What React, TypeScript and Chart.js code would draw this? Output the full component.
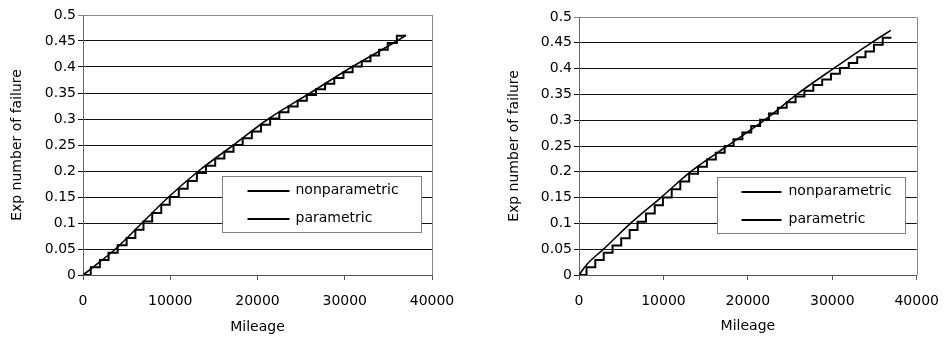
import React, { useEffect, useRef } from "react";
import { Chart, registerables } from "chart.js";

Chart.register(...registerables);

// ---------- data ----------
const seriesNames = ["nonparametric", "parametric"];
const xTickLabels = ["0", "10000", "20000", "30000", "40000"];
const yTickLabels = ["0", "0.05", "0.1", "0.15", "0.2", "0.25", "0.3", "0.35", "0.4", "0.45", "0.5"];
const xAxisTitle = "Mileage";
const yAxisTitle = "Exp number of failure";

// nonparametric step estimate (jump mileage, cumulative value) – same in both panels
const stepMileage = [0, 890, 1930, 2930, 3970, 5000, 6000, 6930, 7930, 8970, 9940, 10980, 12000, 13050, 14100, 15150, 16200, 17250, 18300, 19350, 20400, 21450, 22500, 23550, 24600, 25650, 26700, 27750, 28800, 29850, 30900, 31950, 32950, 33930, 34930, 35970, 37000];
const stepValue = [0, 0.015, 0.029, 0.043, 0.057, 0.071, 0.087, 0.103, 0.119, 0.135, 0.15, 0.166, 0.181, 0.196, 0.21, 0.224, 0.237, 0.25, 0.263, 0.276, 0.289, 0.301, 0.313, 0.324, 0.335, 0.346, 0.357, 0.368, 0.379, 0.39, 0.401, 0.411, 0.422, 0.433, 0.446, 0.46, 0.46];

// parametric fit, left panel
const leftCurveMileage = [0, 1000, 3720, 6760, 9810, 13250, 17250, 21230, 26040, 30800, 35970, 37000];
const leftCurveValue = [0, 0.013, 0.05, 0.1, 0.15, 0.2, 0.25, 0.3, 0.35, 0.4, 0.45, 0.461];

// parametric fit, right panel
const rightCurveMileage = [0, 900, 2900, 6100, 9700, 13200, 17550, 21960, 25800, 30130, 34620, 36920];
const rightCurveValue = [0, 0.02, 0.05, 0.1, 0.15, 0.2, 0.25, 0.3, 0.35, 0.4, 0.45, 0.474];

const FONT = "'DejaVu Sans', 'Liberation Sans', Arial, sans-serif";

type Panel = {
  curveX: number[];
  curveY: number[];
  yWidth: number;
  padRight: number;
  padTop: number;
  xHeight: number;
  yTitlePad: number;
  xTitlePad: number;
  legend: { left: number; rightInset: number; top: number; height: number; lineFrom: number; lineTo: number; textAt: number };
};

const panels: Panel[] = [
  {
    curveX: leftCurveMileage,
    curveY: leftCurveValue,
    yWidth: 83,
    padRight: 44,
    padTop: 15,
    xHeight: 65,
    yTitlePad: 9,
    xTitlePad: 4,
    legend: { left: 139, rightInset: 11, top: 160.5, height: 56, lineFrom: 25, lineTo: 67, textAt: 73 },
  },
  {
    curveX: rightCurveMileage,
    curveY: rightCurveValue,
    yWidth: 103,
    padRight: 25,
    padTop: 17,
    xHeight: 65,
    yTitlePad: 30,
    xTitlePad: 5,
    legend: { left: 138, rightInset: 12, top: 159.5, height: 56, lineFrom: 24, lineTo: 64, textAt: 71 },
  },
];

const frameAndLegend = {
  id: "frameAndLegend",
  beforeDatasetsDraw(chart: any) {
    const { ctx, chartArea: a } = chart;
    ctx.save();
    ctx.strokeStyle = "#8a8a8a";
    ctx.lineWidth = 1;
    const rx = Math.round(a.right) + 0.5;
    ctx.beginPath();
    ctx.moveTo(rx, a.top);
    ctx.lineTo(rx, a.bottom);
    ctx.stroke();
    ctx.restore();
  },
  afterDatasetsDraw(chart: any, _args: any, opts: any) {
    const { ctx, chartArea: a } = chart;
    const lg = opts.box;
    if (!lg) return;
    const left = Math.round(a.left + lg.left) + 0.5;
    const right = Math.round(a.right - lg.rightInset) + 0.5;
    const top = Math.round(a.top + lg.top) + 0.5;
    const bottom = Math.round(a.top + lg.top + lg.height) + 0.5;
    ctx.save();
    ctx.fillStyle = "#ffffff";
    ctx.fillRect(left, top, right - left, bottom - top);
    ctx.strokeStyle = "#808080";
    ctx.lineWidth = 1;
    ctx.strokeRect(left, top, right - left, bottom - top);
    const rowH = (bottom - top) / 2;
    chart.data.datasets.forEach((ds: any, i: number) => {
      const cy = top + rowH * (i + 0.5);
      ctx.strokeStyle = "#000";
      ctx.lineWidth = 2;
      ctx.beginPath();
      ctx.moveTo(left + lg.lineFrom, Math.round(cy));
      ctx.lineTo(left + lg.lineTo, Math.round(cy));
      ctx.stroke();
      ctx.fillStyle = "#000";
      ctx.font = `14px ${FONT}`;
      ctx.textBaseline = "middle";
      ctx.textAlign = "left";
      ctx.fillText(ds.label, left + lg.textAt, cy);
    });
    ctx.restore();
  },
};

function ChartPanel({ panel }: { panel: Panel }) {
  const ref = useRef<HTMLCanvasElement | null>(null);
  useEffect(() => {
    if (!ref.current) return;
    const stepData = stepMileage.map((x, i) => ({ x, y: stepValue[i] }));
    const curveData = panel.curveX.map((x, i) => ({ x, y: panel.curveY[i] }));
    const chart = new Chart(ref.current, {
      type: "line",
      data: {
        datasets: [
          {
            label: seriesNames[0],
            data: stepData,
            stepped: "before",
            borderColor: "#000",
            borderWidth: 2,
            pointRadius: 0,
            fill: false,
          },
          {
            label: seriesNames[1],
            data: curveData,
            borderColor: "#000",
            borderWidth: 1.6,
            pointRadius: 0,
            cubicInterpolationMode: "monotone",
            fill: false,
          },
        ],
      } as any,
      options: {
        animation: false,
        responsive: false,
        events: [],
        layout: { padding: { left: 0, right: panel.padRight, top: panel.padTop, bottom: 0 } },
        plugins: {
          legend: { display: false },
          tooltip: { enabled: false },
          frameAndLegend: { box: panel.legend },
        } as any,
        scales: {
          x: {
            type: "linear",
            min: 0,
            max: 40000,
            ticks: {
              stepSize: 10000,
              color: "#000",
              padding: 13,
              maxRotation: 0,
              font: { family: FONT, size: 14 },
              callback: (v: any) => xTickLabels[Math.round(Number(v) / 10000)] ?? "",
            },
            grid: { drawOnChartArea: false, drawTicks: true, tickLength: 5, color: "#555" },
            border: { display: true, color: "#555", width: 1 },
            title: {
              display: true,
              text: xAxisTitle,
              color: "#000",
              font: { family: FONT, size: 14 },
              padding: { top: 0, bottom: panel.xTitlePad },
            },
            afterFit: (s: any) => {
              s.height = panel.xHeight;
            },
          },
          y: {
            type: "linear",
            min: 0,
            max: 0.5,
            ticks: {
              stepSize: 0.05,
              color: "#000",
              padding: 2,
              font: { family: FONT, size: 14 },
              callback: (v: any) => yTickLabels[Math.round(Number(v) / 0.05)] ?? "",
            },
            grid: {
              drawTicks: true,
              tickLength: 5,
              color: (c: any) => (c.tick && Math.abs(c.tick.value - 0.5) < 1e-9 ? "#8a8a8a" : "#111"),
              lineWidth: 1,
            },
            border: { display: true, color: "#666", width: 1 },
            title: {
              display: true,
              text: yAxisTitle,
              color: "#000",
              font: { family: FONT, size: 14 },
              padding: { top: panel.yTitlePad, bottom: 0 },
            },
            afterFit: (s: any) => {
              s.width = panel.yWidth;
            },
          },
        },
      } as any,
      plugins: [frameAndLegend],
    });
    return () => chart.destroy();
  }, [panel]);
  return <canvas ref={ref} width={476} height={340} style={{ display: "block" }} />;
}

export default function App() {
  useEffect(() => {
    document.body.style.margin = "0";
    document.body.style.background = "#fff";
  }, []);
  return (
    <div style={{ position: "relative", width: 952, height: 340, background: "#fff" }}>
      <div style={{ position: "absolute", left: 0, top: 0, width: 476, height: 340 }}>
        <ChartPanel panel={panels[0]} />
      </div>
      <div style={{ position: "absolute", left: 476, top: 0, width: 476, height: 340 }}>
        <ChartPanel panel={panels[1]} />
      </div>
    </div>
  );
}
